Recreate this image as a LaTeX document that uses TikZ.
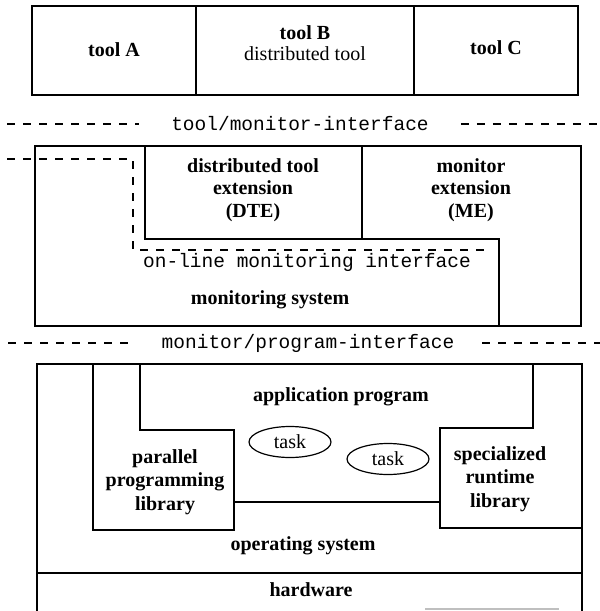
\documentclass[tikz,border=0pt]{standalone}
\usepackage{fontspec}
\setmainfont{Liberation Serif}
\setmonofont{Liberation Mono}
\usetikzlibrary{shapes.geometric}
\begin{document}
\begin{tikzpicture}[x=1pt,y=-1pt,
  ln/.style={line width=1.4pt},
  dsh/.style={line width=1.2pt, dash pattern=on 8pt off 8pt},
  lbl/.style={font=\fontsize{20}{22.5}\selectfont\bfseries, align=center, inner sep=0pt},
  rlbl/.style={font=\fontsize{20}{22.5}\selectfont, align=center, inner sep=0pt},
  mono/.style={font=\fontsize{19.5}{22}\selectfont\ttfamily, inner sep=0pt},
  taskell/.style={ellipse, draw, line width=1.2pt, minimum width=82pt, minimum height=31pt, inner sep=0pt, font=\fontsize{20}{22}\selectfont}
]
\useasboundingbox (0,0) rectangle (600,611);

% top tools
\draw[ln] (32,6) rectangle (578,95);
\draw[ln] (196,6) -- (196,95);
\draw[ln] (414,6) -- (414,95);
\node[lbl] (toolA) at (114,50) {tool A};
\node[lbl] (toolB) at (305,33) {tool B};
\node[rlbl] (toolBsub) at (305,54) {distributed tool};
\node[lbl] (toolC) at (496,48) {tool C};

% tool/monitor interface
\node[mono] (tmi) at (300,124) {tool/monitor-interface};
\coordinate (tmiL) at (7,124);
\coordinate (tmiR) at (600,124);
\draw[dsh] (tmiL) -- ([xshift=-32pt]tmi.west);
\draw[dsh] ([xshift=32pt]tmi.east) -- (tmiR);

% middle layer
\draw[ln] (35,146) rectangle (581,326);
\draw[ln] (145,146) -- (145,239) -- (499,239) -- (499,326);
\draw[ln] (362,146) -- (362,239);
\draw[dsh] (7,159) -- (133,159) -- (133,250) -- (488,250);
\node[lbl] (dte) at (253,190) {distributed tool\\extension\\(DTE)};
\node[lbl] (me) at (471,190) {monitor\\extension\\(ME)};
\node[mono] (omi) at (307,262) {on-line monitoring interface};
\node[lbl] (ms) at (270,300) {monitoring system};

% monitor/program interface
\node[mono] (mpi) at (308,343) {monitor/program-interface};
\coordinate (mpiL) at (8,343);
\coordinate (mpiR) at (600,343);
\draw[dsh] (mpiL) -- ([xshift=-28pt]mpi.west);
\draw[dsh] ([xshift=28pt]mpi.east) -- (mpiR);

% bottom layer
\draw[ln] (37,611) -- (37,364) -- (582,364) -- (582,611);
\draw[ln] (93,364) -- (93,530) -- (234,530) -- (234,430) -- (140,430) -- (140,364);
\draw[ln] (234,502) -- (440,502);
\draw[ln] (533,364) -- (533,428) -- (440,428) -- (440,528) -- (582,528);
\draw[ln] (37,573) -- (582,573);
\draw[gray!50, line width=1.5pt] (425,609) -- (559,609);

\node[lbl] (app) at (341,397) {application program};
\node[taskell] (task1) at (290,442) {task};
\node[taskell] (task2) at (388,459) {task};
\node[lbl, font=\fontsize{20}{23.5}\selectfont\bfseries] (ppl) at (165,482) {parallel\\programming\\library};
\node[lbl, font=\fontsize{20}{23.5}\selectfont\bfseries] (srl) at (500,479) {specialized\\runtime\\library};
\node[lbl] (os) at (303,546) {operating system};
\node[lbl] (hw) at (311,590) {hardware};
\end{tikzpicture}
\end{document}
